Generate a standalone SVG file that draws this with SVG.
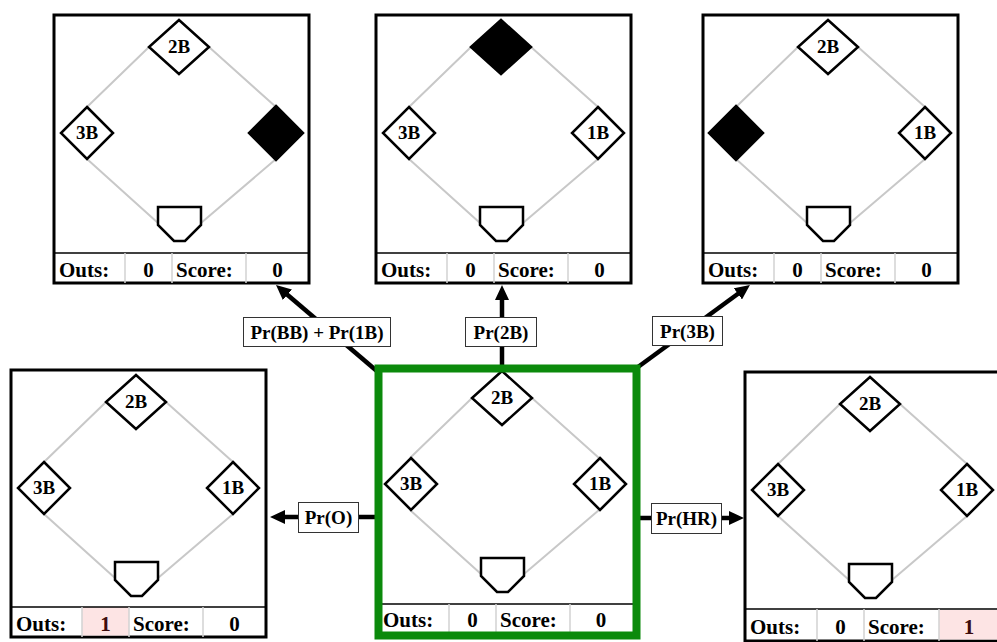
<svg xmlns="http://www.w3.org/2000/svg" width="997" height="642" viewBox="0 0 997 642">
<defs>
<style>
.frame{fill:#fff;stroke:#000;stroke-width:3}
.bg{fill:#fff}
.path{stroke:#c8c8c8;stroke-width:2;fill:none}
.base{fill:#fff;stroke:#000;stroke-width:2.5;stroke-linejoin:miter}
.on{fill:#000}
.home{fill:#fff;stroke:#000;stroke-width:2.5;stroke-linejoin:miter}
.bar{stroke:#000;stroke-width:1.5}
.col{stroke:#d2d2d2;stroke-width:1.5;fill:none}
.bl{font-family:"Liberation Serif","Times New Roman",serif;font-weight:bold;font-size:19px;text-anchor:middle;fill:#000}
.st{font-family:"Liberation Serif","Times New Roman",serif;font-weight:bold;font-size:21px;fill:#000}
.mid{text-anchor:middle}
.pink{fill:#fde4e4}
.red{fill:#3d0c0c}
.conn{stroke:#000;stroke-width:4.5;fill:none;marker-end:url(#ah)}
.lbox{fill:#fff;stroke:#333;stroke-width:1}
.lt{font-family:"Liberation Serif","Times New Roman",serif;font-weight:bold;font-size:19px;text-anchor:middle;fill:#000}
.green{fill:none;stroke:#0b8a0b;stroke-width:8}
</style>
<marker id="ah" markerUnits="userSpaceOnUse" markerWidth="16" markerHeight="14" refX="7" refY="7" orient="auto">
<path d="M0,0 L15,7 L0,14 z" fill="#000"/>
</marker>
</defs>

<g id="state-1b" transform="translate(54,15)">
<rect class="frame" width="255" height="268"/>
<path class="path" d="M95,32L33,92M33,144L104,208M155,32L222,92M222,144L147,208"/>
<polygon class="base" points="125,5 155,32 125,59 95,32"/>
<text class="bl" x="125" y="38">2B</text>
<polygon class="base" points="33,92 59,118 33,144 7,118"/>
<text class="bl" x="33" y="124">3B</text>
<polygon class="base on" points="222,91 249,118 222,145 195,118"/>
<polygon class="home" points="104,192 147,192 147,210 131,226 120,226 104,210"/>
<line class="bar" x1="0" y1="238" x2="255" y2="238"/>
<path class="col" d="M71,238V268M118,238V268M192,238V268"/>
<text class="st" x="5" y="262">Outs:</text>
<text class="st mid" x="94.5" y="262">0</text>
<text class="st" x="122" y="262">Score:</text>
<text class="st mid" x="223.5" y="262">0</text>
</g>

<g id="state-2b" transform="translate(376,15)">
<rect class="frame" width="255" height="268"/>
<path class="path" d="M95,32L33,92M33,144L104,208M155,32L222,92M222,144L147,208"/>
<polygon class="base on" points="125,5 155,32 125,59 95,32"/>
<polygon class="base" points="33,92 59,118 33,144 7,118"/>
<text class="bl" x="33" y="124">3B</text>
<polygon class="base" points="222,92 248,118 222,144 196,118"/>
<text class="bl" x="222" y="124">1B</text>
<polygon class="home" points="104,192 147,192 147,210 131,226 120,226 104,210"/>
<line class="bar" x1="0" y1="238" x2="255" y2="238"/>
<path class="col" d="M71,238V268M118,238V268M192,238V268"/>
<text class="st" x="5" y="262">Outs:</text>
<text class="st mid" x="94.5" y="262">0</text>
<text class="st" x="122" y="262">Score:</text>
<text class="st mid" x="223.5" y="262">0</text>
</g>

<g id="state-3b" transform="translate(703,15)">
<rect class="frame" width="255" height="268"/>
<path class="path" d="M95,32L33,92M33,144L104,208M155,32L222,92M222,144L147,208"/>
<polygon class="base" points="125,5 155,32 125,59 95,32"/>
<text class="bl" x="125" y="38">2B</text>
<polygon class="base on" points="33,91 60,118 33,145 6,118"/>
<polygon class="base" points="222,92 248,118 222,144 196,118"/>
<text class="bl" x="222" y="124">1B</text>
<polygon class="home" points="104,192 147,192 147,210 131,226 120,226 104,210"/>
<line class="bar" x1="0" y1="238" x2="255" y2="238"/>
<path class="col" d="M71,238V268M118,238V268M192,238V268"/>
<text class="st" x="5" y="262">Outs:</text>
<text class="st mid" x="94.5" y="262">0</text>
<text class="st" x="122" y="262">Score:</text>
<text class="st mid" x="223.5" y="262">0</text>
</g>

<g id="state-out" transform="translate(11,370)">
<rect class="frame" width="255" height="267"/>
<rect class="pink" x="71" y="237" width="47" height="28.5"/>
<path class="path" d="M95,32L33,92M33,144L104,208M155,32L222,92M222,144L147,208"/>
<polygon class="base" points="125,5 155,32 125,59 95,32"/>
<text class="bl" x="125" y="38">2B</text>
<polygon class="base" points="33,92 59,118 33,144 7,118"/>
<text class="bl" x="33" y="124">3B</text>
<polygon class="base" points="222,92 248,118 222,144 196,118"/>
<text class="bl" x="222" y="124">1B</text>
<polygon class="home" points="104,192 147,192 147,210 131,226 120,226 104,210"/>
<line class="bar" x1="0" y1="237" x2="255" y2="237"/>
<path class="col" d="M71,237V267M118,237V267M192,237V267"/>
<text class="st" x="5" y="261">Outs:</text>
<text class="st mid red" x="94.5" y="261">1</text>
<text class="st" x="122" y="261">Score:</text>
<text class="st mid" x="223.5" y="261">0</text>
</g>

<g id="state-hr" transform="translate(745,372)">
<rect class="frame" width="255" height="269"/>
<rect class="pink" x="194" y="238" width="61" height="29.5"/>
<path class="path" d="M95,32L33,92M33,144L104,208M155,32L222,92M222,144L147,208"/>
<polygon class="base" points="125,5 155,32 125,59 95,32"/>
<text class="bl" x="125" y="38">2B</text>
<polygon class="base" points="33,92 59,118 33,144 7,118"/>
<text class="bl" x="33" y="124">3B</text>
<polygon class="base" points="222,92 248,118 222,144 196,118"/>
<text class="bl" x="222" y="124">1B</text>
<polygon class="home" points="104,192 147,192 147,210 131,226 120,226 104,210"/>
<line class="bar" x1="0" y1="237" x2="255" y2="237"/>
<path class="col" d="M72,237V269M119,237V269M194,237V269"/>
<text class="st" x="5" y="262">Outs:</text>
<text class="st mid" x="95.5" y="262">0</text>
<text class="st" x="123" y="262">Score:</text>
<text class="st mid red" x="224" y="262">1</text>
</g>

<g id="connectors">
<line class="conn" x1="502" y1="366" x2="502" y2="293"/>
<line class="conn" x1="378" y1="372" x2="282.1" y2="290.2"/>
<line class="conn" x1="638" y1="367" x2="743.5" y2="289.7"/>
<line class="conn" x1="376" y1="517" x2="278" y2="517"/>
<line class="conn" x1="638" y1="518" x2="736" y2="518"/>
<rect class="lbox" x="243.5" y="317.5" width="147" height="29"/>
<text class="lt" x="317" y="339">Pr(BB) + Pr(1B)</text>
<rect class="lbox" x="465.5" y="317.5" width="71" height="29"/>
<text class="lt" x="501" y="339">Pr(2B)</text>
<rect class="lbox" x="652.5" y="316.5" width="70" height="29"/>
<text class="lt" x="687.5" y="338">Pr(3B)</text>
<rect class="lbox" x="298.5" y="502.5" width="60" height="30"/>
<text class="lt" x="328.5" y="524">Pr(O)</text>
<rect class="lbox" x="651.5" y="503.5" width="70" height="30"/>
<text class="lt" x="686.5" y="525">Pr(HR)</text>
</g>

<g id="state-empty">
<g transform="translate(377,366)">
<rect class="bg" width="257" height="268"/>
<path class="path" d="M95,32L33,92M33,144L104,208M155,32L222,92M222,144L147,208"/>
<polygon class="base" points="125,5 155,32 125,59 95,32"/>
<text class="bl" x="125" y="38">2B</text>
<polygon class="base" points="34,92 60,118 34,144 8,118"/>
<text class="bl" x="34" y="124">3B</text>
<polygon class="base" points="223,92 249,118 223,144 197,118"/>
<text class="bl" x="223" y="124">1B</text>
<polygon class="home" points="104,192 147,192 147,210 131,226 120,226 104,210"/>
<line class="bar" x1="0" y1="238" x2="257" y2="238"/>
<path class="col" d="M72,238V268M119,238V268M193,238V268"/>
<text class="st" x="6" y="261">Outs:</text>
<text class="st mid" x="95.5" y="261">0</text>
<text class="st" x="123" y="261">Score:</text>
<text class="st mid" x="224" y="261">0</text>
</g>
<rect class="green" x="378.5" y="368.5" width="258" height="267"/>
</g>
</svg>
